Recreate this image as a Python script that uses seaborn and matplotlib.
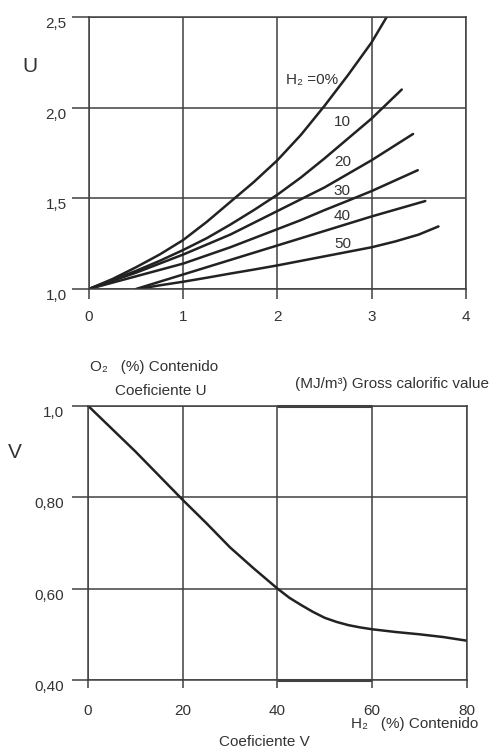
"""Coefficients U and V vs O2 / H2 content (two stacked line charts)."""

import matplotlib
matplotlib.use("Agg")
import matplotlib.pyplot as plt
import matplotlib.transforms as mtransforms
import pandas as pd
import seaborn as sns

# --- top chart: coefficient U vs O2 content, one curve per H2 level ---
h2_levels = ["0", "10", "20", "30", "40", "50"]
u_x = {
    "0": [0, 0.25, 0.5, 0.75, 1, 1.25, 1.5, 1.75, 2, 2.25, 2.5, 2.75, 3, 3.16],
    "10": [0, 0.25, 0.5, 0.75, 1, 1.25, 1.5, 1.75, 2, 2.25, 2.5, 2.75, 3, 3.32],
    "20": [0, 0.25, 0.5, 0.75, 1, 1.25, 1.5, 1.75, 2, 2.25, 2.5, 2.75, 3, 3.44],
    "30": [0, 0.25, 0.5, 0.75, 1, 1.25, 1.5, 1.75, 2, 2.25, 2.5, 2.75, 3, 3.49],
    "40": [0.5, 0.75, 1, 1.25, 1.5, 1.75, 2, 2.25, 2.5, 2.75, 3, 3.57],
    "50": [0.52, 0.75, 1, 1.25, 1.5, 1.75, 2, 2.25, 2.5, 2.75, 3, 3.25, 3.5, 3.71],
}
u_y = {
    "0": [1.0, 1.055, 1.12, 1.19, 1.27, 1.37, 1.48, 1.59, 1.71, 1.85, 2.01,
          2.18, 2.36, 2.50],
    "10": [1.0, 1.05, 1.10, 1.155, 1.215, 1.28, 1.355, 1.435, 1.52, 1.615,
           1.72, 1.83, 1.94, 2.10],
    "20": [1.0, 1.045, 1.09, 1.14, 1.19, 1.245, 1.30, 1.365, 1.43, 1.495,
           1.56, 1.635, 1.71, 1.855],
    "30": [1.0, 1.035, 1.07, 1.105, 1.14, 1.185, 1.23, 1.28, 1.33, 1.38,
           1.435, 1.487, 1.54, 1.655],
    "40": [1.0, 1.04, 1.08, 1.12, 1.16, 1.20, 1.24, 1.28, 1.32, 1.36, 1.40,
           1.485],
    "50": [1.0, 1.02, 1.04, 1.062, 1.085, 1.107, 1.13, 1.155, 1.18, 1.205,
           1.23, 1.262, 1.30, 1.345],
}
u_label_pos = {
    "0": (2.09, 2.15), "10": (2.69, 1.92), "20": (2.69, 1.70),
    "30": (2.69, 1.54), "40": (2.69, 1.40), "50": (2.69, 1.25),
}
u_xticks = [0, 1, 2, 3, 4]
u_yticks = [1.0, 1.5, 2.0, 2.5]

# --- bottom chart: coefficient V vs H2 content ---
v_x = [0, 5, 10, 15, 20, 25, 30, 35, 37.5, 40, 42.5, 45, 47.5, 50, 52.5, 55,
       57.5, 60, 65, 70, 75, 80]
v_y = [1.0, 0.95, 0.90, 0.847, 0.794, 0.743, 0.69, 0.644, 0.622, 0.60, 0.58,
       0.564, 0.549, 0.536, 0.527, 0.52, 0.515, 0.511, 0.505, 0.50, 0.494,
       0.486]
v_xticks = [0, 20, 40, 60, 80]
v_yticks = [0.40, 0.60, 0.80, 1.0]

u_df = pd.concat(
    [pd.DataFrame({"o2": u_x[k], "u": u_y[k], "h2": k}) for k in h2_levels],
    ignore_index=True,
)
v_df = pd.DataFrame({"h2": v_x, "v": v_y})

GRID = "#404040"
CURVE = "#222222"
TXT = "#333333"

sns.set_theme(style="white", rc={
    "xtick.bottom": True, "ytick.left": True,
    "xtick.direction": "out", "ytick.direction": "out",
    "xtick.color": GRID, "ytick.color": GRID,
})
plt.rcParams["font.family"] = ["Liberation Sans", "DejaVu Sans"]


def comma(v, nd):
    return f"{v:.{nd}f}".replace(".", ",")


def style_axes(ax, ylen, xlen, xpad, ypad):
    ax.grid(True, color=GRID, lw=1.1)
    for sp in ax.spines.values():
        sp.set_color(GRID)
        sp.set_linewidth(1.1)
    ax.tick_params(axis="y", left=True, direction="out", length=ylen,
                   width=1.1, color=GRID, pad=ypad, labelsize=11,
                   labelcolor=TXT)
    ax.tick_params(axis="x", bottom=True, direction="out", length=xlen,
                   width=1.1, color=GRID, pad=xpad, labelsize=11,
                   labelcolor=TXT)
    ax.set_xlabel("")
    ax.set_ylabel("")


fig = plt.figure(figsize=(4.9, 7.5), dpi=100)
ax1 = fig.add_axes([0.1816, 0.6147, 0.769, 0.3626])
ax2 = fig.add_axes([0.1796, 0.0933, 0.7734, 0.3657])

# top chart
sns.lineplot(data=u_df, x="o2", y="u", hue="h2", units="h2", estimator=None,
             palette=[CURVE] * len(h2_levels), lw=1.8, legend=False, ax=ax1)
ax1.set_xlim(u_xticks[0], u_xticks[-1])
ax1.set_ylim(u_yticks[0], u_yticks[-1])
ax1.set_xticks(u_xticks)
ax1.set_yticks(u_yticks)
ax1.set_yticklabels([comma(v, 1) for v in u_yticks])
style_axes(ax1, ylen=12, xlen=7, xpad=8, ypad=4)
for k in h2_levels:
    x, y = u_label_pos[k]
    if k == "0":
        ax1.text(x, y, "H\u2082 =0%", fontsize=11, color=TXT, va="center",
                 ha="left", family=["Liberation Sans", "DejaVu Sans"])
    else:
        ax1.text(x, y, k, fontsize=11, color=TXT, va="center", ha="center")

# bottom chart
sns.lineplot(data=v_df, x="h2", y="v", color=CURVE, lw=1.8, ax=ax2)
ax2.set_xlim(v_xticks[0], v_xticks[-1])
ax2.set_ylim(v_yticks[0], v_yticks[-1])
ax2.set_xticks(v_xticks)
ax2.set_yticks(v_yticks)
ax2.set_yticklabels([comma(v, 1) if v == 1.0 else comma(v, 2) for v in v_yticks])
style_axes(ax2, ylen=11.5, xlen=6, xpad=11, ypad=6)
# heavier border segment between 40 and 60
ax2.hlines([v_yticks[0], v_yticks[-1]], v_xticks[2], v_xticks[3],
           color=GRID, lw=2.2, clip_on=False)

# nudge y tick labels slightly below their gridlines
shift = mtransforms.ScaledTranslation(0, -4 / 72, fig.dpi_scale_trans)
for ax in (ax1, ax2):
    for lab in ax.get_yticklabels():
        lab.set_transform(lab.get_transform() + shift)

# axis letters and captions
fig.text(0.061, 0.912, "U", fontsize=15, color=TXT, ha="center", va="center")
fig.text(0.031, 0.396, "V", fontsize=15, color=TXT, ha="center", va="center")
fig.text(0.184, 0.511, "O\u2082   (%) Contenido", fontsize=11, color=TXT,
         ha="left", va="center", family=["Liberation Sans", "DejaVu Sans"])
fig.text(0.235, 0.479, "Coeficiente U", fontsize=11, color=TXT,
         ha="left", va="center")
fig.text(0.602, 0.488, "(MJ/m\u00b3) Gross calorific value", fontsize=11,
         color=TXT, ha="left", va="center")
fig.text(0.976, 0.035, "H\u2082   (%) Contenido", fontsize=11, color=TXT,
         ha="right", va="center", family=["Liberation Sans", "DejaVu Sans"])
fig.text(0.539, 0.010, "Coeficiente V", fontsize=11, color=TXT,
         ha="center", va="center")

fig.savefig("out.png", dpi=100)
plt.close(fig)
